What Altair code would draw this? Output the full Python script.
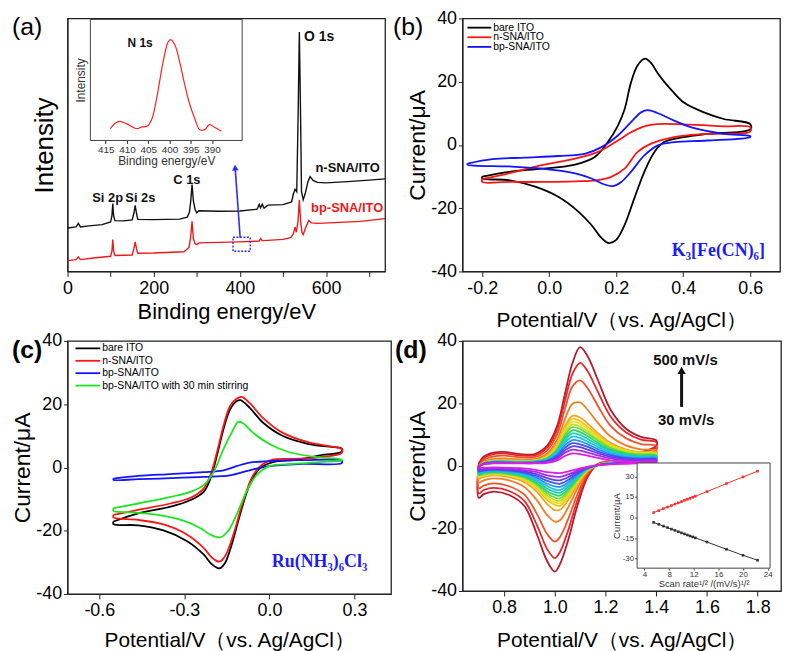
import altair as alt
import pandas as pd

SANS = "Arial, 'Liberation Sans', Helvetica, sans-serif"
SERIF = "'Times New Roman', 'Liberation Serif', serif"
MINUS_FIX = "replace(datum.label, '\u2212', '-')"
POT_TITLE = "Potential/V\uff08vs. Ag/AgCl\uff09"

# ======================= (a) XPS survey =======================
xps_series = ["n-SNA/ITO", "bp-SNA/ITO"]
xps_colors = ["#111111", "#f01818"]
xps_n_be = [0, 20, 25, 30, 50, 80, 100, 103, 105, 107, 110, 130, 150, 154, 157, 160, 163, 200, 260, 278,
            283, 286, 289, 292, 296, 300, 305, 350, 400, 440, 445, 448, 452, 456, 465, 500, 520, 524, 528, 532,
            535, 538, 541, 543, 547, 552, 558, 563, 570, 580, 600, 650, 700, 737]
xps_n_int = [17.2, 17.6, 19.0, 17.6, 18.0, 18.5, 19.6, 22.0, 26.8, 22.0, 20.1, 20.0, 20.4, 23.0, 26.1, 23.0, 20.6, 20.5, 20.7, 21.5,
             23.5, 28.0, 34.3, 28.0, 24.5, 23.2, 24.0, 23.8, 23.9, 24.6, 26.5, 25.2, 26.6, 25.0, 26.2, 26.4, 27.5, 30.5, 32.5, 31.5,
             60.0, 94.6, 60.0, 31.6, 28.3, 31.0, 35.5, 37.5, 36.0, 35.2, 35.0, 35.5, 36.1, 36.6]
xps_bp_be = [0, 20, 25, 30, 60, 100, 103, 105, 107, 110, 150, 154, 157, 160, 163, 200, 270, 282, 286, 289,
             292, 296, 300, 305, 400, 445, 448, 452, 465, 500, 518, 524, 528, 531, 535, 538, 541, 544, 547, 553,
             560, 566, 580, 620, 680, 737]
xps_bp_int = [4.3, 4.7, 5.8, 4.7, 5.3, 6.0, 8.0, 12.6, 8.0, 6.3, 6.5, 9.0, 11.7, 9.0, 7.2, 7.3, 7.8, 9.5, 14.0, 19.8,
              13.0, 11.0, 10.6, 11.3, 11.7, 12.0, 13.0, 12.2, 12.3, 12.7, 13.4, 14.8, 17.5, 15.5, 20.0, 28.3, 20.0, 15.5, 14.6, 17.5,
              20.2, 19.2, 19.0, 19.3, 19.8, 20.9]
xps_ticks = [0, 100, 200, 300, 400, 500, 600, 700]

a_labels = ["O 1s", "n-SNA/ITO", "bp-SNA/ITO", "C 1s", "Si 2p", "Si 2s"]
a_label_be = [584, 650, 649, 277, 93, 169]
a_label_int = [92.5, 40.9, 25.2, 36.2, 29.0, 29.0]
a_label_colors = ["#111111", "#111111", "#f01818", "#111111", "#111111", "#111111"]
a_label_sizes = [14, 13, 13, 13, 13, 13]

zoom_box_be = [384, 424]
zoom_box_int = [8.0, 13.5]
arrow_a_be = [400.7, 389.0]
arrow_a_int = [13.3, 41.0]

n1s_be = [413.9, 412.7, 411.7, 410.0, 407.7, 406.5, 405.3, 404.2, 403.0, 401.5, 400.3,
          399.7, 398.7, 397.6, 396.4, 395.2, 394.1, 392.9, 391.7, 390.6, 389.4, 387.8]
n1s_int = [9.8, 14.5, 15.8, 13.7, 9.8, 11.2, 11.7, 17.2, 35.0, 65.0, 81.4,
           83.3, 78.7, 65.0, 45.9, 29.5, 18.6, 9.0, 9.0, 13.1, 10.9, 7.6]
n1s_ticks = [415, 410, 405, 400, 395, 390]

# ======================= (b) K3[Fe(CN)6] =======================
b_series = ["bare ITO", "n-SNA/ITO", "bp-SNA/ITO"]
b_colors = ["#000000", "#ff1414", "#1414ff"]
b_bare_E = [-0.2, -0.12, -0.02, 0.077, 0.136, 0.175, 0.205, 0.225, 0.244, 0.264, 0.286, 0.305, 0.323, 0.343, 0.363, 0.402, 0.462, 0.521,
            0.6, 0.6, 0.472, 0.402, 0.343, 0.314, 0.284, 0.254, 0.225, 0.2, 0.177, 0.156, 0.126, 0.086, 0.027, -0.042, -0.121, -0.2]
b_bare_I = [-10.0, -8.5, -7.5, -6.2, -3.8, 0.9, 6.1, 11.3, 19.7, 25.2, 27.3, 25.8, 22.8, 20.0, 17.6, 13.4, 10.3, 8.2,
            6.6, 4.9, 3.5, 2.5, 0.9, -2.2, -8.5, -16.9, -25.3, -30.0, -31.0, -29.4, -25.3, -21.0, -16.4, -13.2, -11.1, -10.6]
b_n_E = [-0.2, -0.121, -0.022, 0.077, 0.146, 0.205, 0.244, 0.284, 0.323, 0.422, 0.521, 0.6,
         0.6, 0.472, 0.373, 0.304, 0.264, 0.225, 0.185, 0.146, 0.077, -0.022, -0.121, -0.2]
b_n_I = [-10.8, -9.0, -6.4, -4.3, -2.2, 1.4, 4.0, 5.9, 6.6, 6.4, 5.9, 5.6,
         4.2, 3.5, 2.5, 0.4, -2.2, -7.5, -10.1, -11.1, -11.5, -11.7, -11.7, -11.7]
b_bp_E = [-0.244, -0.17, -0.072, 0.027, 0.106, 0.156, 0.205, 0.244, 0.274, 0.294, 0.323, 0.373, 0.422, 0.521, 0.6,
          0.6, 0.472, 0.373, 0.323, 0.284, 0.244, 0.215, 0.19, 0.165, 0.126, 0.077, -0.022, -0.121, -0.244]
b_bp_I = [-5.9, -4.5, -4.0, -3.5, -2.8, -0.7, 3.0, 7.2, 10.3, 11.0, 10.1, 7.7, 5.6, 3.5, 2.8,
          2.5, 1.4, 0.9, -0.2, -3.3, -8.5, -11.7, -13.0, -12.5, -10.6, -9.0, -7.5, -6.8, -6.2]

# ======================= (c) Ru(NH3)6Cl3 =======================
c_series = ["bare ITO", "n-SNA/ITO", "bp-SNA/ITO", "bp-SNA/ITO with 30 min stirring"]
c_colors = ["#000000", "#ff1414", "#1414ff", "#1ee61e"]
c_bare_E = [-0.55, -0.463, -0.348, -0.278, -0.232, -0.208, -0.185, -0.162, -0.139, -0.116, -0.102, -0.07, -0.023, 0.046, 0.139, 0.232, 0.255,
            0.255, 0.174, 0.093, 0.012, -0.035, -0.07, -0.104, -0.133, -0.156, -0.176, -0.203, -0.232, -0.29, -0.371, -0.463, -0.55]
c_bare_I = [-17.1, -14.5, -12.4, -10.3, -7.7, -3.5, 3.75, 12.1, 18.3, 20.9, 21.25, 18.9, 14.2, 10.0, 7.4, 6.4, 6.0,
            5.0, 3.75, 2.4, 1.7, -0.4, -5.6, -15.0, -24.4, -30.1, -31.9, -30.6, -27.5, -23.3, -20.0, -18.3, -17.9]
c_n_E = [-0.55, -0.463, -0.348, -0.278, -0.232, -0.208, -0.185, -0.162, -0.139, -0.116, -0.098, -0.07, -0.023, 0.046, 0.139, 0.232, 0.255,
         0.255, 0.174, 0.093, 0.012, -0.023, -0.058, -0.093, -0.127, -0.156, -0.176, -0.203, -0.232, -0.29, -0.371, -0.463, -0.55]
c_n_I = [-15.0, -13.4, -11.4, -9.6, -6.7, -2.5, 4.8, 13.1, 19.4, 21.7, 22.3, 20.4, 15.7, 11.0, 7.9, 6.4, 5.8,
         4.6, 3.2, 2.7, 2.5, 1.1, -2.5, -10.8, -21.25, -28.0, -29.8, -28.5, -25.4, -21.25, -18.1, -16.6, -15.8]
c_bp_E = [-0.55, -0.463, -0.348, -0.232, -0.162, -0.116, -0.07, 0.0, 0.116, 0.255,
          0.255, 0.116, 0.0, -0.07, -0.139, -0.232, -0.348, -0.463, -0.55]
c_bp_I = [-3.5, -2.7, -2.1, -1.5, -0.9, 0.4, 1.5, 2.0, 2.3, 2.1,
          1.35, 1.1, 0.4, -0.9, -2.5, -3.0, -3.4, -3.7, -3.9]
c_stir_E = [-0.55, -0.463, -0.348, -0.278, -0.232, -0.197, -0.162, -0.133, -0.11, -0.093, -0.058, 0.0, 0.07, 0.174, 0.255,
            0.255, 0.174, 0.081, 0.0, -0.046, -0.081, -0.116, -0.145, -0.174, -0.208, -0.243, -0.301, -0.394, -0.487, -0.55]
c_stir_I = [-12.9, -11.4, -9.3, -7.7, -5.6, -1.5, 5.8, 11.0, 14.4, 14.0, 11.0, 7.4, 4.8, 3.2, 2.5,
            2.2, 1.7, 1.1, 0.4, -2.5, -7.7, -15.0, -20.0, -22.1, -21.25, -19.2, -16.9, -15.0, -14.2, -13.75]

# ======================= (d) scan-rate series =======================
d_E_up = [0.70, 0.72, 0.76, 0.80, 0.86, 0.92, 0.97, 1.01, 1.04, 1.07, 1.10, 1.13, 1.17, 1.22, 1.28, 1.34, 1.40]
d_E_dn = [1.40, 1.34, 1.28, 1.22, 1.17, 1.13, 1.09, 1.05, 1.02, 1.00, 0.97, 0.93, 0.88, 0.82, 0.76, 0.72, 0.70]
d500_up = [0.8, 3.0, 4.3, 4.5, 3.8, 3.8, 6.5, 13.0, 23.0, 33.0, 38.0, 35.0, 27.5, 18.0, 12.0, 9.3, 8.2]
d500_dn = [6.5, 4.3, 2.8, 1.5, 0.6, -3.5, -12.5, -24.5, -31.5, -33.8, -30.5, -22.0, -12.8, -9.3, -8.2, -9.0, -10.2]
d400_up = [0.2, 2.5, 3.8, 4.0, 3.4, 3.4, 5.9, 11.8, 20.8, 29.5, 33.0, 30.2, 23.7, 15.8, 10.8, 8.4, 7.6]
d400_dn = [6.0, 4.0, 2.6, 1.4, 0.6, -2.9, -10.8, -21.3, -27.6, -29.5, -26.6, -19.0, -11.2, -8.0, -7.0, -7.7, -8.8]
d300_up = [0.0, 2.0, 3.1, 3.3, 2.8, 2.8, 5.0, 10.3, 18.2, 25.5, 27.4, 24.8, 19.2, 12.8, 8.9, 7.0, 6.4]
d300_dn = [5.0, 3.3, 2.2, 1.3, 0.5, -2.3, -8.9, -17.6, -22.8, -24.2, -21.8, -15.4, -9.2, -6.5, -5.6, -6.3, -7.2]
d200_up = [-0.4, 1.4, 2.3, 2.4, 2.1, 2.2, 4.0, 8.6, 15.0, 19.9, 20.3, 17.9, 13.8, 9.4, 6.6, 5.3, 4.9]
d200_dn = [3.9, 2.7, 1.8, 1.1, 0.4, -1.8, -7.1, -13.7, -17.4, -17.8, -15.7, -11.0, -6.7, -4.6, -4.0, -4.6, -5.3]
d150_up = [-0.6, 1.0, 1.8, 1.9, 1.7, 1.8, 3.4, 7.4, 12.8, 16.0, 15.5, 13.5, 10.5, 7.4, 5.3, 4.4, 4.1]
d150_dn = [3.4, 2.4, 1.6, 1.0, 0.3, -1.5, -6.0, -11.3, -14.0, -14.1, -12.2, -8.3, -5.2, -3.6, -3.0, -3.5, -4.1]
d140_up = [-0.6, 1.0, 1.7, 1.7, 1.6, 1.7, 3.0, 6.8, 12.1, 15.1, 14.3, 12.5, 9.8, 6.9, 5.1, 4.4, 4.2]
d140_dn = [3.3, 2.5, 1.8, 1.2, 0.3, -1.3, -5.4, -10.2, -12.8, -12.4, -10.9, -7.4, -4.6, -3.2, -2.7, -3.1, -3.6]
d130_up = [-0.5, 1.0, 1.6, 1.6, 1.5, 1.6, 2.9, 6.4, 11.4, 14.2, 13.5, 11.8, 9.2, 6.5, 4.8, 4.2, 4.0]
d130_dn = [3.1, 2.4, 1.7, 1.1, 0.3, -1.2, -5.0, -9.6, -12.0, -11.6, -10.2, -7.0, -4.3, -3.0, -2.5, -2.9, -3.4]
d120_up = [-0.5, 0.9, 1.6, 1.6, 1.4, 1.6, 2.7, 6.0, 10.6, 13.3, 12.6, 11.0, 8.6, 6.1, 4.5, 3.9, 3.8]
d120_dn = [2.9, 2.3, 1.6, 1.1, 0.3, -1.1, -4.7, -9.0, -11.2, -10.9, -9.5, -6.5, -4.0, -2.8, -2.4, -2.7, -3.1]
d110_up = [-0.4, 0.9, 1.5, 1.5, 1.4, 1.5, 2.5, 5.6, 9.9, 12.4, 11.8, 10.3, 8.1, 5.7, 4.2, 3.7, 3.5]
d110_dn = [2.7, 2.2, 1.5, 1.0, 0.3, -1.0, -4.4, -8.3, -10.4, -10.1, -8.8, -6.0, -3.7, -2.6, -2.2, -2.5, -2.9]
d100_up = [-0.4, 0.9, 1.4, 1.4, 1.3, 1.4, 2.4, 5.1, 9.1, 11.4, 10.8, 9.5, 7.4, 5.2, 3.9, 3.4, 3.3]
d100_dn = [2.5, 2.0, 1.5, 1.0, 0.3, -1.0, -4.0, -7.6, -9.5, -9.2, -8.1, -5.5, -3.4, -2.4, -2.0, -2.3, -2.7]
d90_up = [-0.4, 0.8, 1.3, 1.3, 1.2, 1.3, 2.2, 4.7, 8.3, 10.4, 9.9, 8.6, 6.8, 4.8, 3.5, 3.1, 3.0]
d90_dn = [2.3, 1.9, 1.4, 0.9, 0.3, -0.9, -3.6, -6.9, -8.6, -8.3, -7.3, -5.0, -3.1, -2.2, -1.8, -2.1, -2.4]
d80_up = [-0.3, 0.8, 1.3, 1.3, 1.2, 1.3, 2.0, 4.2, 7.5, 9.4, 8.9, 7.8, 6.1, 4.3, 3.2, 2.8, 2.7]
d80_dn = [2.1, 1.8, 1.3, 0.9, 0.3, -0.8, -3.2, -6.2, -7.7, -7.5, -6.5, -4.5, -2.8, -1.9, -1.6, -1.8, -2.2]
d70_up = [-0.3, 0.7, 1.2, 1.2, 1.1, 1.2, 1.8, 3.7, 6.6, 8.3, 7.9, 6.9, 5.4, 3.8, 2.8, 2.5, 2.5]
d70_dn = [1.9, 1.6, 1.2, 0.8, 0.3, -0.7, -2.8, -5.4, -6.7, -6.5, -5.7, -3.9, -2.4, -1.7, -1.4, -1.6, -1.9]
d60_up = [-0.3, 0.7, 1.1, 1.1, 1.0, 1.1, 1.6, 3.3, 5.8, 7.3, 6.9, 6.1, 4.7, 3.4, 2.5, 2.2, 2.2]
d60_dn = [1.7, 1.5, 1.1, 0.7, 0.3, -0.6, -2.4, -4.6, -5.7, -5.5, -4.8, -3.3, -2.1, -1.4, -1.2, -1.4, -1.6]
d50_up = [-0.2, 0.6, 1.0, 1.0, 0.9, 1.0, 1.4, 2.8, 5.0, 6.3, 6.0, 5.2, 4.1, 2.9, 2.1, 2.0, 1.9]
d50_dn = [1.4, 1.3, 1.0, 0.7, 0.3, -0.5, -1.9, -3.7, -4.6, -4.5, -3.9, -2.7, -1.7, -1.2, -1.0, -1.1, -1.3]
d40_up = [-0.2, 0.6, 0.9, 0.9, 0.9, 0.9, 1.2, 2.3, 4.2, 5.2, 4.9, 4.3, 3.4, 2.4, 1.8, 1.7, 1.7]
d40_dn = [1.2, 1.1, 0.9, 0.6, 0.3, -0.4, -1.5, -2.8, -3.5, -3.4, -3.0, -2.0, -1.3, -0.9, -0.7, -0.8, -1.0]
d30_up = [-0.2, 0.6, 0.8, 0.8, 0.8, 0.8, 1.0, 1.8, 3.2, 4.0, 3.8, 3.3, 2.6, 1.8, 1.4, 1.3, 1.3]
d30_dn = [1.0, 0.9, 0.7, 0.5, 0.3, -0.2, -1.0, -1.8, -2.3, -2.2, -2.0, -1.3, -0.8, -0.6, -0.5, -0.6, -0.6]

d_curves = [("500 mV/s", d500_up, d500_dn), ("400 mV/s", d400_up, d400_dn), ("300 mV/s", d300_up, d300_dn),
            ("200 mV/s", d200_up, d200_dn), ("150 mV/s", d150_up, d150_dn), ("140 mV/s", d140_up, d140_dn),
            ("130 mV/s", d130_up, d130_dn), ("120 mV/s", d120_up, d120_dn), ("110 mV/s", d110_up, d110_dn),
            ("100 mV/s", d100_up, d100_dn), ("90 mV/s", d90_up, d90_dn), ("80 mV/s", d80_up, d80_dn),
            ("70 mV/s", d70_up, d70_dn), ("60 mV/s", d60_up, d60_dn), ("50 mV/s", d50_up, d50_dn),
            ("40 mV/s", d40_up, d40_dn), ("30 mV/s", d30_up, d30_dn)]
d_colors = ["#b8192c", "#e8262a", "#f0512a", "#f47d22", "#f6a324", "#f3c514", "#e6e01e", "#b6e22e", "#72d93e",
            "#2fd06e", "#1ccfb0", "#1cc2e4", "#2a92f0", "#3a58f0", "#6638f0", "#a02cf0", "#e01ee0"]

inset_sqrt_v = [5.48, 6.32, 7.07, 7.75, 8.37, 8.94, 9.49, 10.0, 10.49, 10.95, 11.40, 11.83, 12.25, 14.14, 17.32, 20.0, 22.36]
inset_ipa = [3.6, 5.0, 6.5, 7.6, 8.7, 9.8, 10.7, 11.6, 12.5, 13.3, 14.0, 14.8, 15.5, 18.9, 24.8, 29.6, 33.8]
inset_ipc = [-3.6, -5.0, -6.3, -7.4, -8.5, -9.4, -10.4, -11.2, -12.0, -12.8, -13.5, -14.2, -14.9, -17.9, -23.2, -27.6, -31.2]


# ======================= helpers =======================
def loop_frame(curves):
    rows = []
    for name, E, I in curves:
        E2 = list(E) + [E[0]]
        I2 = list(I) + [I[0]]
        for k, (e, i) in enumerate(zip(E2, I2)):
            rows.append({"E": e, "I": i, "series": name, "k": k})
    return pd.DataFrame(rows)


def panel_label(t, x, y, bold):
    return alt.Chart(pd.DataFrame({"t": [t]})).mark_text(
        font=SANS, fontSize=25, fontWeight="bold" if bold else "normal",
        align="left", baseline="middle", color="black"
    ).encode(x=alt.value(x), y=alt.value(y), text="t:N")


def legend_layers(labels, colors, y0, y1, x0, x1, fs):
    d = pd.DataFrame({"s": labels})
    ysc = alt.Scale(type="point", domain=labels, range=[y0, y1], padding=0)
    rule = alt.Chart(d).mark_rule(strokeWidth=1.8).encode(
        x=alt.value(x0), x2=alt.value(x1),
        y=alt.Y("s:N", scale=ysc, axis=None),
        color=alt.Color("s:N", scale=alt.Scale(domain=labels, range=colors), legend=None),
    )
    txt = alt.Chart(d).mark_text(align="left", baseline="middle", fontSize=fs, font=SANS, color="black").encode(
        x=alt.value(x1 + 2), y=alt.Y("s:N", scale=ysc, axis=None), text="s:N"
    )
    return [rule, txt]


def cv_y_axis():
    return alt.Axis(title="Current/\u03bcA", values=[-40, -20, 0, 20, 40], labelExpr=MINUS_FIX,
                    titleFontSize=23, titlePadding=1, tickSize=4, labelPadding=2)


def cv_lines(df, xs, ys, series, colors, xaxis, width=1.8):
    return alt.Chart(df).mark_line(interpolate="catmull-rom", strokeWidth=width, clip=True).encode(
        x=alt.X("E:Q", scale=xs, axis=xaxis),
        y=alt.Y("I:Q", scale=ys, axis=cv_y_axis()),
        color=alt.Color("series:N", scale=alt.Scale(domain=series, range=colors), legend=None),
        order=alt.Order("k:Q"),
    )


def text_at(df, xs, ys, xf, yf, **kw):
    return alt.Chart(df).mark_text(**kw).encode(
        x=alt.X(xf, scale=xs, axis=None), y=alt.Y(yf, scale=ys, axis=None), text="t:N")


RES = dict(x="independent", y="independent", color="independent")

# ======================= panel (a) =======================
W_A, H_A = 320, 255
xa = alt.Scale(domain=[0, 737], nice=False, zero=False)
ya = alt.Scale(domain=[0, 100], nice=False, zero=False)
df_xps = pd.concat([
    pd.DataFrame({"BE": xps_n_be, "I": xps_n_int, "s": xps_series[0], "k": range(len(xps_n_be))}),
    pd.DataFrame({"BE": xps_bp_be, "I": xps_bp_int, "s": xps_series[1], "k": range(len(xps_bp_be))}),
])
a_lines = alt.Chart(df_xps).mark_line(strokeWidth=1.4, clip=True).encode(
    x=alt.X("BE:Q", scale=xa, axis=alt.Axis(title="Binding energy/eV", values=xps_ticks,
                                           labelExpr="datum.value % 200 == 0 ? datum.label : ''",
                                           titleFontSize=22, titlePadding=4)),
    y=alt.Y("I:Q", scale=ya, axis=alt.Axis(title="Intensity", labels=False, ticks=False, titleFontSize=26, titlePadding=10)),
    color=alt.Color("s:N", scale=alt.Scale(domain=xps_series, range=xps_colors), legend=None),
    order=alt.Order("k:Q"),
)
a_text = alt.Chart(pd.DataFrame({"t": a_labels, "BE": a_label_be, "I": a_label_int, "c": a_label_colors, "fs": a_label_sizes})).mark_text(
    font=SANS, fontWeight="bold", baseline="middle"
).encode(
    x=alt.X("BE:Q", scale=xa, axis=None), y=alt.Y("I:Q", scale=ya, axis=None), text="t:N",
    color=alt.Color("c:N", scale=None), size=alt.Size("fs:Q", scale=None),
)
a_box = alt.Chart(pd.DataFrame({"x1": [zoom_box_be[0]], "x2": [zoom_box_be[1]], "y1": [zoom_box_int[0]], "y2": [zoom_box_int[1]]})).mark_rect(
    fillOpacity=0, stroke="#2b2bff", strokeWidth=1.4, strokeDash=[2, 1.5]
).encode(x=alt.X("x1:Q", scale=xa, axis=None), x2="x2:Q", y=alt.Y("y1:Q", scale=ya, axis=None), y2="y2:Q")
a_arrow = alt.Chart(pd.DataFrame({"x1": [arrow_a_be[0]], "x2": [arrow_a_be[1]], "y1": [arrow_a_int[0]], "y2": [arrow_a_int[1]]})).mark_rule(
    color="#2b2bff", strokeWidth=1.6
).encode(x=alt.X("x1:Q", scale=xa, axis=None), x2="x2:Q", y=alt.Y("y1:Q", scale=ya, axis=None), y2="y2:Q")
a_head = alt.Chart(pd.DataFrame({"x": [arrow_a_be[1]], "y": [arrow_a_int[1]]})).mark_point(
    shape="triangle-up", filled=True, size=45, color="#2b2bff", opacity=1, angle=356
).encode(x=alt.X("x:Q", scale=xa, axis=None), y=alt.Y("y:Q", scale=ya, axis=None))

xi_a = alt.Scale(domain=[418.6, 382.9], range=[23, 176], nice=False, zero=False)
yi_a = alt.Scale(domain=[0, 100], range=[123, 1], nice=False, zero=False)
ai_frame = alt.Chart(pd.DataFrame({"x1": [418.6], "x2": [382.9], "y1": [0], "y2": [100]})).mark_rect(
    fill="white", stroke="#444444", strokeWidth=1
).encode(
    x=alt.X("x1:Q", scale=xi_a, axis=alt.Axis(orient="bottom", offset=-(H_A - 123), values=n1s_ticks,
                                             title="Binding energy/eV", titleFontSize=12, labelFontSize=10,
                                             tickSize=3, labelPadding=1, titlePadding=1, domain=False,
                                             labelColor="#333333", titleColor="#333333")),
    x2="x2:Q",
    y=alt.Y("y1:Q", scale=yi_a, axis=alt.Axis(orient="left", offset=-23, labels=False, ticks=False, domain=False,
                                             title="Intensity", titleFontSize=12, titlePadding=3, titleColor="#333333")),
    y2="y2:Q",
)
ai_line = alt.Chart(pd.DataFrame({"BE": n1s_be, "I": n1s_int, "k": range(len(n1s_be))})).mark_line(
    color="#ff2020", strokeWidth=1.2, interpolate="catmull-rom"
).encode(x=alt.X("BE:Q", scale=xi_a, axis=None), y=alt.Y("I:Q", scale=yi_a, axis=None), order=alt.Order("k:Q"))
ai_text = text_at(pd.DataFrame({"t": ["N 1s"], "BE": [406.9], "I": [80.7]}), xi_a, yi_a, "BE:Q", "I:Q",
                  font=SANS, fontWeight="bold", fontSize=12, color="#111111")

panel_a = alt.layer(
    a_lines, a_text, a_box, a_arrow, a_head, ai_frame, ai_line, ai_text, panel_label("(a)", -56, 8.5, False)
).resolve_scale(**RES).properties(width=W_A, height=H_A)

# ======================= panel (b) =======================
W_B, H_B = 320, 255
xb = alt.Scale(domain=[-0.259, 0.689], nice=False, zero=False)
yb = alt.Scale(domain=[-40, 40], nice=False, zero=False)
df_b = loop_frame([(b_series[0], b_bare_E, b_bare_I), (b_series[1], b_n_E, b_n_I), (b_series[2], b_bp_E, b_bp_I)])
b_lines = cv_lines(df_b, xb, yb, b_series, b_colors,
                   alt.Axis(title=POT_TITLE, values=[-0.2, 0.0, 0.2, 0.4, 0.6], format=".1f", labelExpr=MINUS_FIX, titlePadding=12))
b_formula = text_at(pd.DataFrame({"t": ["K\u2083[Fe(CN)\u2086]"], "E": [0.505], "I": [-33.4]}), xb, yb, "E:Q", "I:Q",
                    font=SERIF, fontSize=18, fontWeight="bold", color="#1a1aff")
panel_b = alt.layer(
    b_lines, b_formula, *legend_layers(b_series, b_colors, 9.3, 28.7, 5, 29, 10.5), panel_label("(b)", -70, 9, False)
).resolve_scale(**RES).properties(width=W_B, height=H_B)

# ======================= panel (c) =======================
W_C, H_C = 326, 255
xc = alt.Scale(domain=[-0.712, 0.429], nice=False, zero=False)
yc = alt.Scale(domain=[-40, 40], nice=False, zero=False)
df_c = loop_frame([(c_series[0], c_bare_E, c_bare_I), (c_series[1], c_n_E, c_n_I),
                   (c_series[2], c_bp_E, c_bp_I), (c_series[3], c_stir_E, c_stir_I)])
c_lines = cv_lines(df_c, xc, yc, c_series, c_colors,
                   alt.Axis(title=POT_TITLE, values=[-0.6, -0.3, 0.0, 0.3], format=".1f", labelExpr=MINUS_FIX, titlePadding=10))
c_formula = text_at(pd.DataFrame({"t": ["Ru(NH\u2083)\u2086Cl\u2083"], "E": [0.177], "I": [-29.8]}), xc, yc, "E:Q", "I:Q",
                    font=SERIF, fontSize=18, fontWeight="bold", color="#1a1aff")
panel_c = alt.layer(
    c_lines, c_formula, *legend_layers(c_series, c_colors, 7.5, 45, 8, 33, 10.5), panel_label("(c)", -56, 9.7, True)
).resolve_scale(**RES).properties(width=W_C, height=H_C)

# ======================= panel (d) =======================
W_D, H_D = 321, 252
xd = alt.Scale(domain=[0.636, 1.892], nice=False, zero=False)
yd = alt.Scale(domain=[-40, 40], nice=False, zero=False)
d_names = [c[0] for c in d_curves]
df_d = loop_frame([(name, d_E_up + d_E_dn, up + dn) for name, up, dn in d_curves])
d_lines = cv_lines(df_d, xd, yd, d_names, d_colors,
                   alt.Axis(title=POT_TITLE, values=[0.8, 1.0, 1.2, 1.4, 1.6, 1.8], format=".1f", titlePadding=13),
                   width=1.8)
d_text = text_at(pd.DataFrame({"t": ["500 mV/s", "30 mV/s"], "E": [1.515, 1.518], "I": [33.9, 14.8]}), xd, yd, "E:Q", "I:Q",
                 font=SANS, fontWeight="bold", fontSize=15, color="#111111")
d_arrow = alt.Chart(pd.DataFrame({"E": [1.50], "y1": [18.9], "y2": [29.5]})).mark_rule(color="#111111", strokeWidth=3).encode(
    x=alt.X("E:Q", scale=xd, axis=None), y=alt.Y("y1:Q", scale=yd, axis=None), y2="y2:Q")
d_head = alt.Chart(pd.DataFrame({"E": [1.50], "y": [30.6]})).mark_point(
    shape="triangle-up", filled=True, size=70, color="#111111", opacity=1
).encode(x=alt.X("E:Q", scale=xd, axis=None), y=alt.Y("y:Q", scale=yd, axis=None))

INSET_D_TOP, INSET_D_BOTTOM = 123, 229
xi_d = alt.Scale(domain=[2.8, 24.4], range=[176, 310], nice=False, zero=False)
yi_d = alt.Scale(domain=[-37, 39.8], range=[INSET_D_BOTTOM, INSET_D_TOP], nice=False, zero=False)
di_frame = alt.Chart(pd.DataFrame({"x1": [2.8], "x2": [24.4], "y1": [-37], "y2": [39.8]})).mark_rect(
    fill="white", stroke="#444444", strokeWidth=1
).encode(
    x=alt.X("x1:Q", scale=xi_d, axis=alt.Axis(orient="bottom", offset=-(H_D - INSET_D_BOTTOM), values=[4, 8, 12, 16, 20, 24],
                                             title="Scan rate\u00b9/\u00b2 /(mV/s)\u00b9/\u00b2", titleFontSize=9.5,
                                             labelFontSize=8, tickSize=2, labelPadding=0, titlePadding=0, domain=False,
                                             labelColor="#333333", titleColor="#333333", tickColor="#444444")),
    x2="x2:Q",
    y=alt.Y("y1:Q", scale=yi_d, axis=alt.Axis(orient="left", offset=-176, values=[-30, -15, 0, 15, 30],
                                             title="Current/\u03bcA", titleFontSize=9.5, labelFontSize=8, tickSize=2.5,
                                             labelPadding=1, titlePadding=1, domain=False, labelExpr=MINUS_FIX,
                                             labelColor="#333333", titleColor="#333333", tickColor="#444444")),
    y2="y2:Q",
)
inset_series = ["anodic", "cathodic"]
inset_colors = ["#ff3030", "#333333"]
df_di = pd.concat([
    pd.DataFrame({"x": inset_sqrt_v, "ip": inset_ipa, "s": inset_series[0]}),
    pd.DataFrame({"x": inset_sqrt_v, "ip": inset_ipc, "s": inset_series[1]}),
])
di_line = alt.Chart(df_di).mark_line(strokeWidth=1).encode(
    x=alt.X("x:Q", scale=xi_d, axis=None), y=alt.Y("ip:Q", scale=yi_d, axis=None),
    color=alt.Color("s:N", scale=alt.Scale(domain=inset_series, range=inset_colors), legend=None))
di_pts = alt.Chart(df_di).mark_point(shape="square", filled=True, size=7, opacity=1).encode(
    x=alt.X("x:Q", scale=xi_d, axis=None), y=alt.Y("ip:Q", scale=yi_d, axis=None),
    color=alt.Color("s:N", scale=alt.Scale(domain=inset_series, range=inset_colors), legend=None))

panel_d = alt.layer(
    d_lines, d_text, d_arrow, d_head, di_frame, di_line, di_pts, panel_label("(d)", -68, 9.7, True)
).resolve_scale(**RES).properties(width=W_D, height=H_D)

# ======================= assemble =======================
chart = alt.concat(
    panel_a, panel_b, panel_c, panel_d,
    columns=2, spacing={"row": 70, "column": 72}, bounds="flush", align="all",
).properties(
    padding={"left": 3, "top": -2, "right": 0, "bottom": 0}
).configure_view(
    stroke="#222222", strokeWidth=1.3
).configure_axis(
    labelFont=SANS, titleFont=SANS, labelFontSize=18, titleFontSize=21, labelColor="#000000", titleColor="#000000",
    titleFontWeight="normal", domainColor="#222222", tickColor="#222222", tickSize=5, labelPadding=3,
    grid=False, labelFlush=False, labelOverlap=False
)

chart.save("out.html", embed_options={"renderer": "svg", "actions": False})
